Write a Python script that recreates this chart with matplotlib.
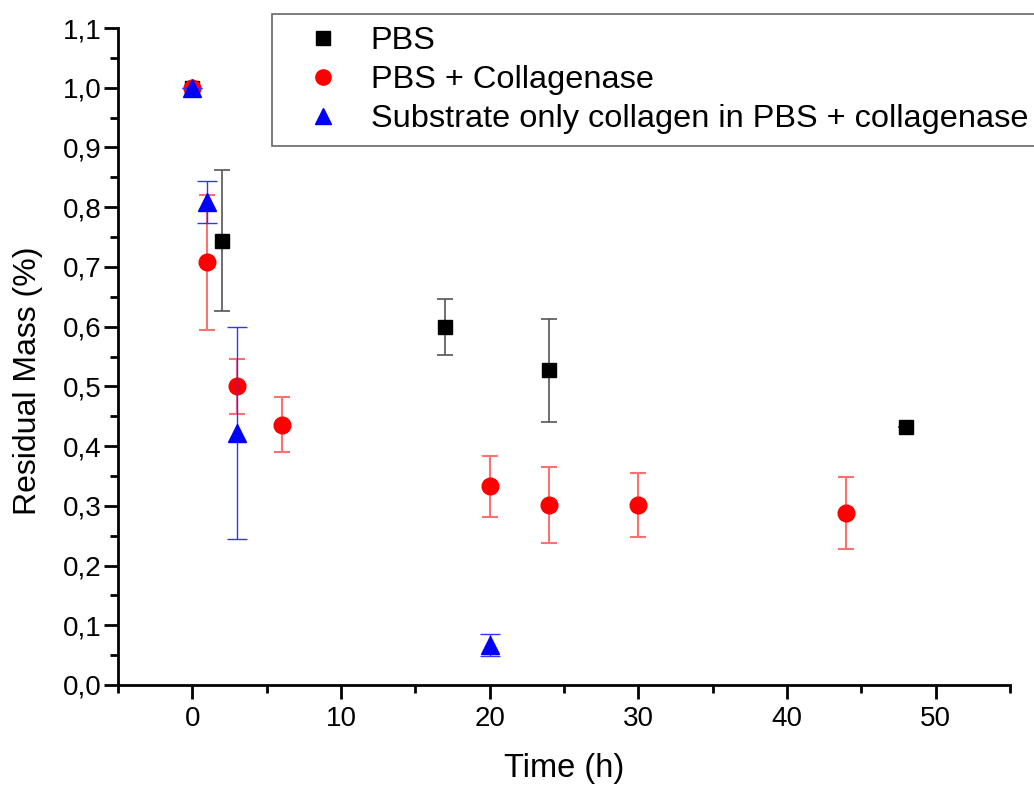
import matplotlib
matplotlib.use("Agg")
import matplotlib.pyplot as plt
from matplotlib.lines import Line2D
from matplotlib.ticker import MultipleLocator, FuncFormatter

plt.rcParams['font.family'] = ['Liberation Sans', 'DejaVu Sans']

# Residual mass over time, mean ± error
pbs_t = [0, 2, 17, 24, 48]
pbs_m = [1.0, 0.744, 0.600, 0.527, 0.432]
pbs_e = [0.0, 0.118, 0.047, 0.086, 0.0]

col_t = [0, 1, 3, 6, 20, 24, 30, 44]
col_m = [1.0, 0.708, 0.500, 0.436, 0.333, 0.301, 0.301, 0.288]
col_e = [0.0, 0.113, 0.046, 0.046, 0.051, 0.064, 0.054, 0.061]

sub_t = [0, 1, 3, 20]
sub_m = [1.0, 0.809, 0.422, 0.067]
sub_e = [0.0, 0.035, 0.178, 0.019]

labels = ["PBS", "PBS + Collagenase", "Substrate only collagen in PBS + collagenase"]

fig = plt.figure(figsize=(10.34, 7.85), dpi=100)
ax = fig.add_axes([118/1034, 1-685/785, (1010-118)/1034, (685-28)/785])

ax.errorbar(pbs_t, pbs_m, yerr=pbs_e, fmt='s', color='black', ms=10.5,
            ecolor='#555555', elinewidth=1.2, capsize=6, capthick=1.2, zorder=3)
ax.errorbar(col_t, col_m, yerr=col_e, fmt='o', color='red', ms=12,
            ecolor='#ff7070', elinewidth=1.5, capsize=6, capthick=1.5, zorder=4)
ax.errorbar(sub_t, sub_m, yerr=sub_e, fmt='^', color='#0000ff', ms=12.5,
            ecolor='#3333ff', elinewidth=1.0, capsize=7, capthick=1.0, zorder=5)

ax.set_xlim(-5, 55)
ax.set_ylim(0, 1.1)
ax.xaxis.set_major_locator(MultipleLocator(10))
ax.xaxis.set_minor_locator(MultipleLocator(5))
ax.yaxis.set_major_locator(MultipleLocator(0.1))
ax.yaxis.set_minor_locator(MultipleLocator(0.05))
ax.yaxis.set_major_formatter(FuncFormatter(lambda v, p: f"{v:.1f}".replace('.', ',')))

for s in ('top', 'right'):
    ax.spines[s].set_visible(False)
for s in ('left', 'bottom'):
    ax.spines[s].set_linewidth(2)
ax.tick_params(which='major', direction='out', length=10, width=2, labelsize=20)
ax.tick_params(axis='y', which='major', pad=2)
ax.tick_params(axis='x', which='major', pad=5)
ax.tick_params(which='minor', direction='out', length=6, width=2)

ax.set_xlabel("Time (h)", fontsize=23.5, labelpad=15)
ax.set_ylabel("Residual Mass (%)", fontsize=23)
ax.yaxis.set_label_coords(-0.084, 0.463)

handles = [
    Line2D([], [], ls='none', marker='s', color='black', ms=10),
    Line2D([], [], ls='none', marker='o', color='red', ms=11),
    Line2D([], [], ls='none', marker='^', color='#0000ff', ms=11),
]
leg = fig.legend(handles, labels, loc='upper left',
                 bbox_to_anchor=(272/1034, 1-14/785), borderaxespad=0,
                 fontsize=23.4, fancybox=False, framealpha=1,
                 edgecolor='#666666', borderpad=0.38, labelspacing=0.27,
                 handletextpad=0.29, handlelength=2.37)
leg.get_frame().set_linewidth(1.2)

fig.savefig("out.png", dpi=100)
